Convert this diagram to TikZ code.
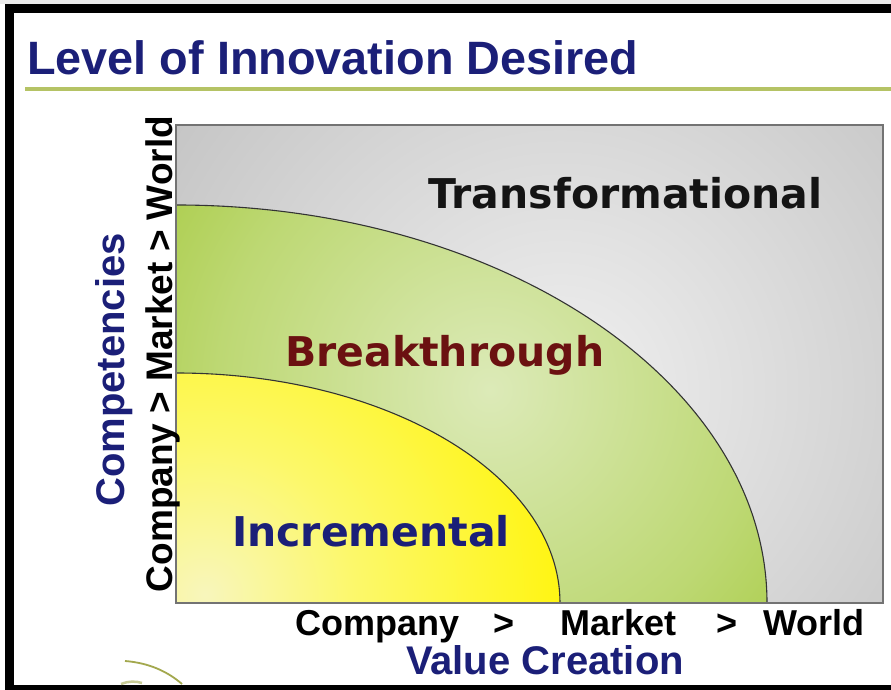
\documentclass[tikz,border=0pt]{standalone}
\usepackage{fontspec}
\setmainfont{Liberation Sans}
\newfontfamily\zonefont{DejaVu Sans}
\usepackage{xcolor}
\definecolor{lvlnavy}{HTML}{1B1F78}
\definecolor{lvlred}{HTML}{6B1111}
\definecolor{lvlrule}{HTML}{B5C365}
\definecolor{lvlgrayin}{HTML}{F0F0F0}
\definecolor{lvlgrayout}{HTML}{B2B2B2}
\definecolor{lvlgreenin}{HTML}{DCEAB8}
\definecolor{lvlgreenmid}{HTML}{BDD873}
\definecolor{lvlgreenout}{HTML}{9AC224}
\definecolor{lvlyellowin}{HTML}{F8F6BC}
\definecolor{lvlyellowmid}{HTML}{FCF86A}
\definecolor{lvlyellowout}{HTML}{FFF514}
\definecolor{lvlswoosh}{HTML}{A3A84E}
\usepackage{tikz}
\pgfdeclareradialshading{lvlgrayglow}{\pgfpointorigin}{color(0bp)=(lvlgrayin); color(35bp)=(lvlgrayout); color(50bp)=(lvlgrayout)}
\pgfdeclareradialshading{lvlgreenglow}{\pgfpointorigin}{color(0bp)=(lvlgreenin); color(17bp)=(lvlgreenmid); color(32bp)=(lvlgreenout); color(50bp)=(lvlgreenout)}
\pgfdeclareradialshading{lvlyellowglow}{\pgfpointorigin}{color(0bp)=(lvlyellowin); color(9bp)=(lvlyellowmid); color(21bp)=(lvlyellowout); color(50bp)=(lvlyellowout)}
\tikzset{
  lvlhead/.style={font=\bfseries\fontsize{46.8}{50}\selectfont,text=lvlnavy,inner sep=0pt},
  lvlzone/.style={font=\zonefont\bfseries\fontsize{41}{44}\selectfont,inner sep=0pt,anchor=base west},
  lvltick/.style={font=\bfseries\fontsize{36}{40}\selectfont,inner sep=0pt},
  lvlaxis/.style={font=\bfseries\fontsize{40}{44}\selectfont,text=lvlnavy,inner sep=0pt},
  lvledge/.style={draw=black!80,line width=1.1pt},
}

\begin{document}
\begin{tikzpicture}[x=1pt,y=1pt]
\useasboundingbox (0,0) rectangle (891,690);
% frame, open on the right
\fill[black!8] (0,686) rectangle (891,690);
\fill[black] (5,0) rectangle (891,686);
\fill[white] (14,5) rectangle (891,677);
% heading
\node[lvlhead,anchor=base west] (title) at (27,615) {Level of Innovation Desired};
\draw[lvlrule,line width=3.5pt] (25,601) -- (891,601);

% three zones from the corner outwards
\begin{scope}
  \clip (176,87) rectangle (883,565);
  \shade[shading=lvlgrayglow] (560,300) circle (490);
\end{scope}
\begin{scope}
  \clip (176,87) -- (176,485) arc[start angle=90,end angle=0,x radius=591,y radius=398] -- cycle;
  \shade[shading=lvlgreenglow] (490,300) circle (400);
\end{scope}
\begin{scope}
  \clip (176,87) -- (176,317) arc[start angle=90,end angle=0,x radius=384,y radius=230] -- cycle;
  \shade[shading=lvlyellowglow] (205,95) circle (420);
\end{scope}
\draw[lvledge] (176,485) arc[start angle=90,end angle=0,x radius=591,y radius=398];
\draw[lvledge] (176,317) arc[start angle=90,end angle=0,x radius=384,y radius=230];
\draw[black!55,line width=1.3pt] (176,87) rectangle (883,565);

\node[lvlzone,text=black!92] (transf) at (428,481) {Transformational};
\node[lvlzone,text=lvlred] (breakt) at (285,323) {Breakthrough};
\node[lvlzone,text=lvlnavy] (increm) at (232,143) {Incremental};

% axes
\node[lvltick,anchor=base west] (xcomp) at (295,54) {Company};
\node[lvltick,anchor=base] (xgtone) at (504,54) {>};
\node[lvltick,anchor=base west] (xmarket) at (560,54) {Market};
\node[lvltick,anchor=base] (xgttwo) at (727,54) {>};
\node[lvltick,anchor=base west] (xworld) at (763,54) {World};
\node[lvlaxis,anchor=base] (xlabel) at (545,15) {Value Creation};

\node[lvltick,font=\bfseries\fontsize{37}{40}\selectfont,rotate=90,anchor=base] (yscale) at (172,336) {Company > Market > World};
\node[lvlaxis,rotate=90,anchor=base] (ylabel) at (124,320) {Competencies};

\draw[lvlswoosh,line width=1.8pt] (125,29) .. controls (150,27) and (168,18) .. (182,6);
\draw[lvlswoosh!60,line width=2.5pt] (121,6) .. controls (128,9) and (136,9) .. (142,7);
\end{tikzpicture}
\end{document}
